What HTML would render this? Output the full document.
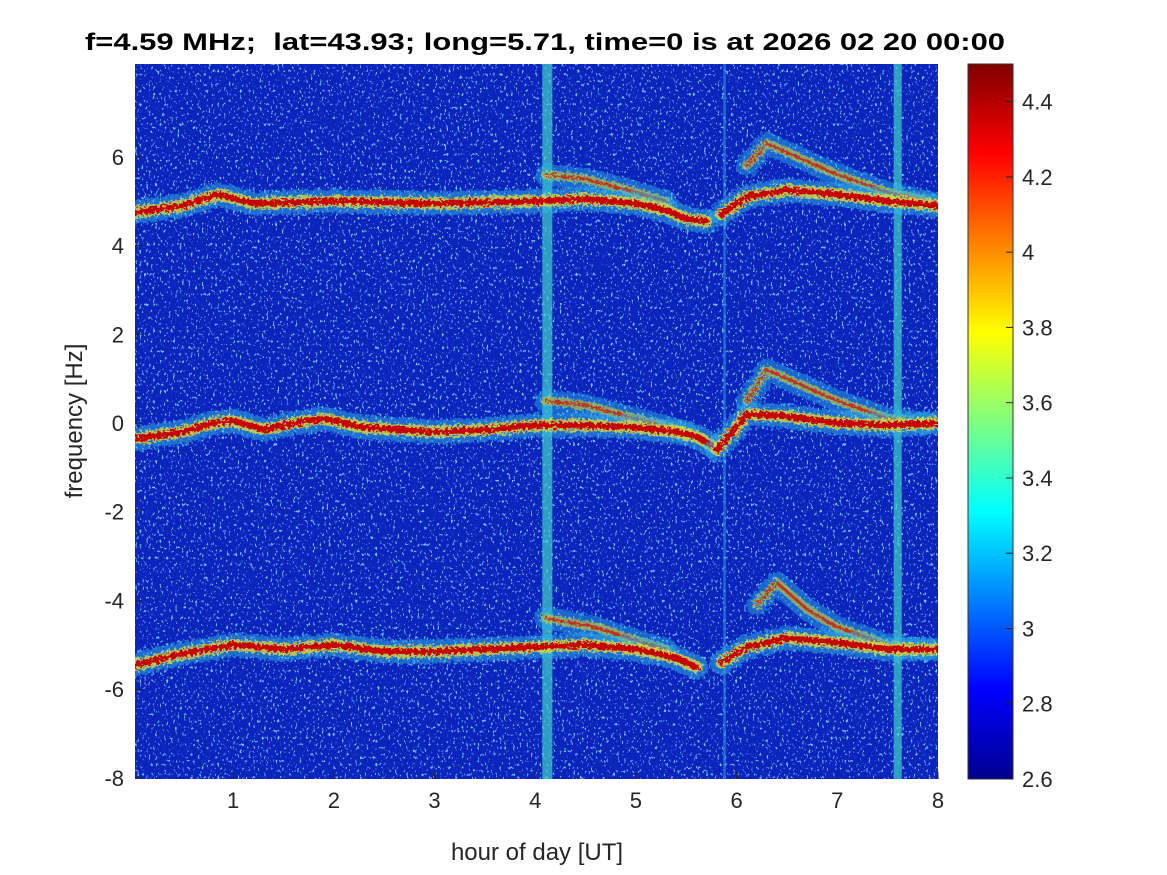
<!DOCTYPE html>
<html><head><meta charset="utf-8"><style>
body{margin:0;background:#fff;}
svg{display:block;font-family:"Liberation Sans",sans-serif;}
</style></head><body>
<svg id="chart" width="1167" height="875" viewBox="0 0 1167 875">
<defs>
<filter id="noise" x="0" y="0" width="100%" height="100%">
<feTurbulence type="fractalNoise" baseFrequency="0.45 0.3" numOctaves="2" seed="3" result="t"/>
<feColorMatrix in="t" type="matrix" values="0 0 0 0 0.2  0 0 0 0 0.55  0 0 0 0 1  0 0 0 10 -6.3"/>
</filter>
<filter id="rough" x="-5%" y="-20%" width="110%" height="140%">
<feTurbulence type="fractalNoise" baseFrequency="0.35" numOctaves="2" seed="7" result="n"/>
<feDisplacementMap in="SourceGraphic" in2="n" scale="9"/>
</filter>
<linearGradient id="jet" x1="0" y1="1" x2="0" y2="0">
<stop offset="0" stop-color="#00008f"/>
<stop offset="0.125" stop-color="#0000ff"/>
<stop offset="0.375" stop-color="#00ffff"/>
<stop offset="0.625" stop-color="#ffff00"/>
<stop offset="0.875" stop-color="#ff0000"/>
<stop offset="1" stop-color="#800000"/>
</linearGradient>
<clipPath id="pc"><rect x="135" y="64" width="803" height="715"/></clipPath>
</defs>
<text x="85" y="50" font-size="24" font-weight="bold" textLength="920" lengthAdjust="spacingAndGlyphs" xml:space="preserve">f=4.59 MHz;  lat=43.93; long=5.71, time=0 is at 2026 02 20 00:00</text>
<g id="plot" clip-path="url(#pc)">
<rect x="135" y="64" width="803" height="715" fill="#0b24bc"/>
<rect x="135" y="64" width="803" height="715" fill="#fff" filter="url(#noise)"/>
<g id="stripes"></g>
<g id="traces" filter="url(#rough)"></g>
</g>
<g id="axes"></g>
<rect x="968" y="64" width="45" height="715" fill="url(#jet)" stroke="#333" stroke-width="1"/>
<g id="cbticks"></g>
<text x="537" y="860" text-anchor="middle" font-size="24" fill="#262626">hour of day [UT]</text>
<text transform="translate(82,421) rotate(-90)" text-anchor="middle" font-size="24" fill="#262626">frequency [Hz]</text>
</svg>
<script>
const xTicks=[1,2,3,4,5,6,7,8];
const yTicks=[-8,-6,-4,-2,0,2,4,6];
const cbTicks=[2.6,2.8,3,3.2,3.4,3.6,3.8,4,4.2,4.4];
const stripeHours=[4.12,7.6,5.88];
const stripeWidths=[0.1,0.08,0.025];
const topT=[0.03,0.5,0.85,1.2,2,3,4,4.5,5,5.3,5.5,5.7];
const topF=[4.75,4.9,5.15,4.95,5.0,4.95,5.0,5.05,4.95,4.8,4.6,4.55];
const top2T=[5.85,6.1,6.5,7,7.5,8];
const top2F=[4.7,5.1,5.25,5.15,5.0,4.9];
const topArcT=[6.1,6.3,6.6,7,7.5,7.9];
const topArcF=[5.8,6.3,6.0,5.6,5.2,5.0];
const topPreT=[4.1,4.5,5.0,5.3];
const topPreF=[5.6,5.5,5.2,5.0];
const midT=[0.03,0.5,0.8,1,1.3,1.6,1.9,2.3,3,3.5,4,4.5,5,5.4,5.6,5.75];
const midF=[-0.35,-0.2,0.0,0.05,-0.15,0.0,0.1,-0.1,-0.2,-0.15,-0.05,-0.05,-0.1,-0.2,-0.3,-0.5];
const mid2T=[5.8,6.0,6.1,6.5,7,7.5,8];
const mid2F=[-0.6,-0.1,0.2,0.15,0.0,-0.05,0.0];
const midPreT=[4.1,4.5,5.0,5.5];
const midPreF=[0.5,0.4,0.1,-0.2];
const midArcT=[6.1,6.3,6.6,7,7.5,7.9];
const midArcF=[0.5,1.2,0.9,0.5,0.1,0.0];
const botT=[0.03,0.5,1,1.5,2,2.5,3,4,4.5,5,5.4,5.6];
const botF=[-5.45,-5.2,-5.0,-5.1,-5.0,-5.15,-5.15,-5.05,-5.0,-5.1,-5.3,-5.5];
const bot2T=[5.85,6.1,6.5,7,7.5,8];
const bot2F=[-5.4,-5.05,-4.85,-4.95,-5.1,-5.1];
const botArcT=[6.2,6.4,6.7,7,7.5,7.9];
const botArcF=[-4.1,-3.6,-4.2,-4.6,-5.0,-5.1];
const botPreT=[4.1,4.6,5.0,5.3];
const botPreF=[-4.4,-4.6,-4.9,-5.1];

const X=h=>135+(h-0.025)*(803/7.975);
const Y=f=>423-f*44.36;
const CY=v=>779-(v-2.6)*(715/1.9);
const NS="http://www.w3.org/2000/svg";
function mk(tag,attrs,parent){const e=document.createElementNS(NS,tag);for(const k in attrs)e.setAttribute(k,attrs[k]);parent.appendChild(e);return e;}
const stripes=document.getElementById('stripes');
stripeHours.forEach((h,i)=>{
 const w=stripeWidths[i]*(803/7.975);
 const r=mk('rect',{x:X(h)-w/2,y:64,width:w,height:715,fill:i<2?'#3fd0c8':'#2aa8e0',opacity:i<2?0.7:0.55},stripes);
 
 
});
const traces=document.getElementById('traces');
function trace(ts,fs,name,strong){
 const d=ts.map((t,i)=>(i?'L':'M')+X(t).toFixed(1)+' '+Y(fs[i]).toFixed(1)).join(' ');
 const layers=strong?[[24,'#2fb8e8',0.5],[12,'#e8e030',0.75],[6,'#c80000',1]]:[[22,'#2fb8e8',0.45],[9,'#d0d030',0.6],[3,'#d01000',0.75]];
 layers.forEach(([w,c,o])=>{
  const p=mk('path',{d:d,fill:'none',stroke:c,'stroke-width':w,opacity:o,'stroke-linejoin':'round','stroke-linecap':'round'},traces);
  
  
 });
}
trace(topPreT,topPreF,'upper-band-precursor',false);
trace(topArcT,topArcF,'upper-band-arc',false);
trace(topT,topF,'upper-band-trace',true);
trace(top2T,top2F,'upper-band-trace-late',true);
trace(midPreT,midPreF,'center-band-precursor',false);
trace(midArcT,midArcF,'center-band-arc',false);
trace(midT,midF,'center-band-trace',true);
trace(mid2T,mid2F,'center-band-trace-late',true);
trace(botPreT,botPreF,'lower-band-precursor',false);
trace(botArcT,botArcF,'lower-band-arc',false);
trace(botT,botF,'lower-band-trace',true);
trace(bot2T,bot2F,'lower-band-trace-late',true);

const axes=document.getElementById('axes');
xTicks.forEach(t=>{
 const x=X(t);
 mk('line',{x1:x,y1:779,x2:x,y2:772,stroke:'#262626'},axes);
 const tx=mk('text',{x:x,y:808,'text-anchor':'middle','font-size':22,fill:'#262626'},axes);
 tx.textContent=t;
 
 
});
yTicks.forEach(t=>{
 const y=Y(t);
 mk('line',{x1:135,y1:y,x2:142,y2:y,stroke:'#262626'},axes);
 const tx=mk('text',{x:124,y:y+8,'text-anchor':'end','font-size':22,fill:'#262626'},axes);
 tx.textContent=t;
 
 
});
const cb=document.getElementById('cbticks');
cbTicks.forEach(t=>{
 const y=CY(t);
 mk('line',{x1:1006,y1:y,x2:1013,y2:y,stroke:'#262626'},cb);
 const tx=mk('text',{x:1022,y:y+8,'font-size':22,fill:'#262626'},cb);
 tx.textContent=String(t);
 
 
});
</script>
</body></html>
